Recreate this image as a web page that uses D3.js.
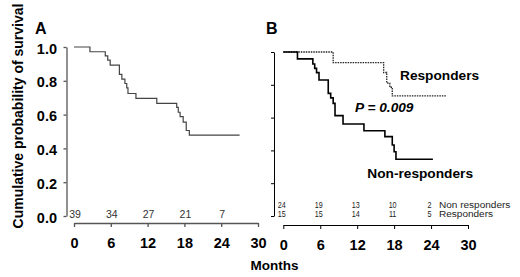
<!DOCTYPE html>
<html>
<head>
<meta charset="utf-8">
<script src="https://cdn.jsdelivr.net/npm/d3@7"></script>
<style>
  body { margin: 0; background: #fff; }
  text { font-family: "Liberation Sans", Arial, sans-serif; }
</style>
</head>
<body>
<div id="chart"></div>
<script>
// Data
const monthTicks = [0, 6, 12, 18, 24, 30]
const survTicks = [0, 0.2, 0.4, 0.6, 0.8, 1.0]
const riskMonths = [0, 6, 12, 18, 24]

// panel A: all patients
const allTimes = [0, 2.6, 5.1, 5.5, 5.9, 7.4, 7.8, 8.3, 8.6, 8.8, 10.1, 13.5, 16.75, 17.0, 17.3, 17.8, 18.3, 18.8, 27.0]
const allSurv = [1.0, 0.972, 0.947, 0.922, 0.893, 0.838, 0.81, 0.784, 0.758, 0.725, 0.696, 0.667, 0.643, 0.614, 0.588, 0.555, 0.506, 0.478, 0.478]
const allRisk = [39, 34, 27, 21, 7]

// panel B: non responders / responders
const nonTimes = [0, 2.3, 4.8, 5.1, 5.4, 5.8, 7.3, 7.7, 8.1, 8.4, 9.7, 13.1, 16.5, 17.7, 18.0, 18.3, 24.3]
const nonSurv = [1.0, 0.958, 0.927, 0.9, 0.874, 0.829, 0.748, 0.72, 0.687, 0.612, 0.561, 0.52, 0.484, 0.433, 0.392, 0.346, 0.346]
const nonRisk = [24, 19, 13, 10, 2]

const respTimes = [0, 8.1, 16.3, 16.8, 17.3, 17.7, 26.5]
const respSurv = [1.0, 0.935, 0.875, 0.81, 0.785, 0.732, 0.732]
const respRisk = [15, 15, 14, 11, 5]

const svg = d3.select('#chart')
    .append('svg')
    .attr('width', 520)
    .attr('height', 277)

svg.append('rect').attr('width', 520).attr('height', 277).attr('fill', '#fff')

const zip = (t, s) => t.map((d, i) => ({t: d, s: s[i]}))

// scales
const xA = d3.scaleLinear().domain([0, 30]).range([74, 258])
const yA = d3.scaleLinear().domain([0, 1]).range([216, 47])
const xB = d3.scaleLinear().domain([0, 30]).range([283.3, 468])
const yB = d3.scaleLinear().domain([0, 1]).range([216, 52])

function styleAxis(g, color, width){
    g.selectAll('path, line').attr('stroke', color).attr('stroke-width', width)
    g.selectAll('text')
        .attr('fill', '#000')
        .attr('font-size', 14.5)
        .attr('font-weight', 'bold')
        .attr('font-family', '"Liberation Sans", Arial, sans-serif')
}

// ---------- panel A ----------
const gyA = svg.append('g')
    .attr('transform', 'translate(66.5,0)')
    .call(d3.axisLeft(yA).tickValues(survTicks).tickFormat(d3.format('.1f'))
        .tickSize(3).tickSizeOuter(0).tickPadding(6.5))
styleAxis(gyA, '#555', 1.3)
gyA.selectAll('text').attr('dy', '0.42em')

const gxA = svg.append('g')
    .attr('transform', 'translate(0,223)')
    .call(d3.axisBottom(xA).tickValues(monthTicks).tickSize(4).tickSizeOuter(0).tickPadding(10.5))
styleAxis(gxA, '#555', 1.3)

const lineA = d3.line()
    .x(d => xA(d.t))
    .y(d => yA(d.s))
    .curve(d3.curveStepAfter)

svg.append('path')
    .datum(zip(allTimes, allSurv))
    .attr('d', lineA)
    .attr('fill', 'none')
    .attr('stroke', '#444')
    .attr('stroke-width', 1.2)

svg.append('g').selectAll('text')
    .data(allRisk)
    .join('text')
    .attr('x', (d, i) => xA(riskMonths[i]) + 1)
    .attr('y', 218)
    .attr('text-anchor', 'middle')
    .attr('font-size', 10.5)
    .attr('fill', '#333')
    .text(d => d)

svg.append('text')
    .attr('x', 35).attr('y', 34)
    .attr('font-size', 16).attr('font-weight', 'bold')
    .text('A')

// ---------- panel B ----------
const gyB = svg.append('g')
    .attr('transform', 'translate(274,0)')
    .call(d3.axisLeft(yB).tickValues(survTicks).tickFormat(() => '')
        .tickSize(3).tickSizeOuter(0))
styleAxis(gyB, '#000', 1)

const gxB = svg.append('g')
    .attr('transform', 'translate(0,225)')
    .call(d3.axisBottom(xB).tickValues(monthTicks).tickSize(4).tickSizeOuter(0).tickPadding(10.5))
styleAxis(gxB, '#000', 1)

const lineB = d3.line()
    .x(d => xB(d.t))
    .y(d => yB(d.s))
    .curve(d3.curveStepAfter)

svg.append('path')
    .datum(zip(respTimes, respSurv))
    .attr('d', lineB)
    .attr('fill', 'none')
    .attr('stroke', '#222')
    .attr('stroke-width', 1.3)
    .attr('stroke-dasharray', '1.5,1')

svg.append('path')
    .datum(zip(nonTimes, nonSurv))
    .attr('d', lineB)
    .attr('fill', 'none')
    .attr('stroke', '#000')
    .attr('stroke-width', 1.6)

// numbers at risk in B (narrow digits, rows set tight as in the figure)
const riskRows = [
    {vals: nonRisk, y: 208.3, label: 'Non responders'},
    {vals: respRisk, y: 217.2, label: 'Responders'}
]
riskRows.forEach(row => {
    svg.append('g').selectAll('text')
        .data(row.vals)
        .join('text')
        .attr('transform', (d, i) => `translate(${xB(riskMonths[i]) - 1.5},${row.y}) scale(0.8,1)`)
        .attr('text-anchor', 'middle')
        .attr('font-size', 9)
        .attr('fill', '#222')
        .text(d => d)
    svg.append('text')
        .attr('transform', `translate(439,${row.y}) scale(1.08,1)`)
        .attr('font-size', 9.3)
        .attr('fill', '#222')
        .text(row.label)
})

svg.append('text')
    .attr('x', 266).attr('y', 33.5)
    .attr('font-size', 16).attr('font-weight', 'bold')
    .text('B')

svg.append('text')
    .attr('x', 400).attr('y', 80)
    .attr('font-size', 13.7).attr('font-weight', 'bold')
    .text('Responders')

svg.append('text')
    .attr('x', 355).attr('y', 111.7)
    .attr('font-size', 13.7).attr('font-weight', 'bold').attr('font-style', 'italic')
    .text('P = 0.009')

svg.append('text')
    .attr('x', 367.3).attr('y', 177.7)
    .attr('font-size', 13.7).attr('font-weight', 'bold')
    .text('Non-responders')

// shared titles
svg.append('text')
    .attr('x', 274.5).attr('y', 270)
    .attr('text-anchor', 'middle')
    .attr('font-size', 13.5).attr('font-weight', 'bold')
    .text('Months')

svg.append('text')
    .attr('transform', 'translate(23,116) rotate(-90)')
    .attr('text-anchor', 'middle')
    .attr('font-size', 14).attr('font-weight', 'bold')
    .text('Cumulative probability of survival')
</script>
</body>
</html>
